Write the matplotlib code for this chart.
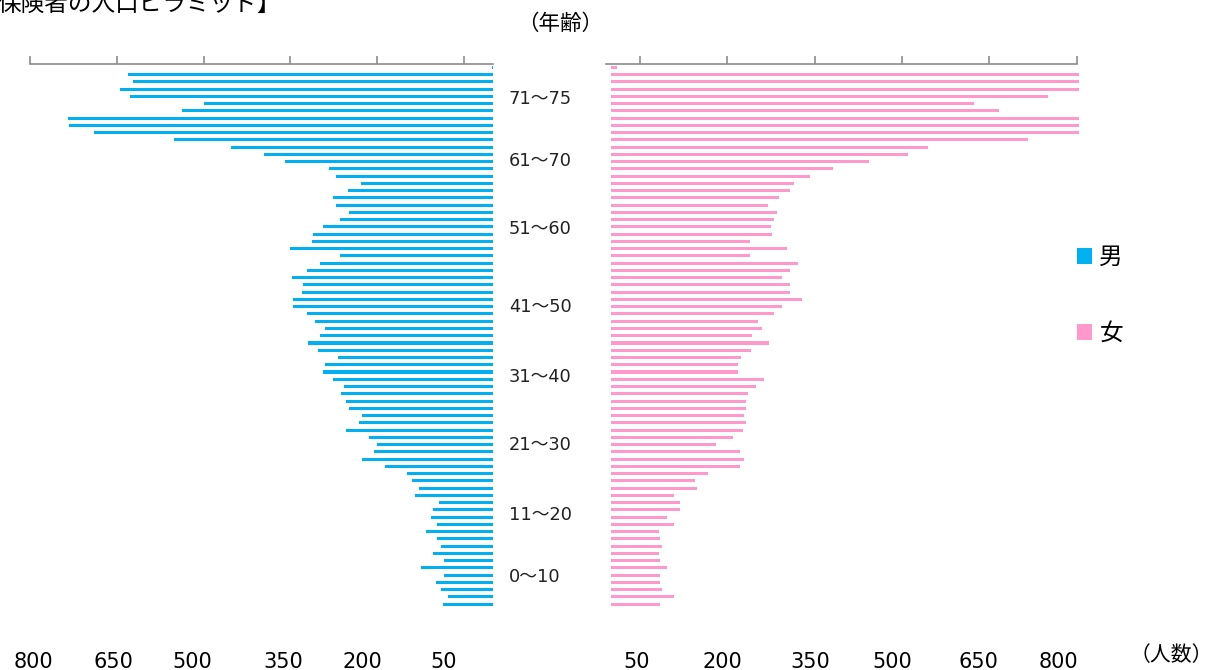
import matplotlib
matplotlib.use("Agg")
import matplotlib.pyplot as plt
import numpy as np

plt.rcParams["font.family"] = ["DejaVu Sans", "Noto Sans CJK JP"]

# ages listed from oldest (top) to youngest (bottom)
male = [2, 631, 622, 645, 628, 500, 537, 735, 733, 690,
        551, 452, 395, 359, 283, 271, 228, 251, 277, 271,
        248, 265, 294, 311, 313, 350, 265, 299, 322, 348,
        328, 330, 345, 345, 322, 307, 291, 299, 319, 302,
        268, 291, 294, 277, 257, 263, 254, 248, 226, 231,
        254, 214, 200, 206, 226, 186, 149, 140, 127, 135,
        93, 104, 107, 96, 115, 96, 90, 104, 84, 124,
        84, 98, 90, 78, 87]
female = [10, 804, 804, 804, 750, 624, 666, 804, 804, 804,
          716, 545, 511, 443, 381, 342, 314, 308, 289, 269,
          286, 280, 274, 277, 238, 302, 238, 322, 308, 294,
          308, 308, 328, 294, 280, 252, 260, 243, 271, 240,
          223, 218, 218, 263, 249, 235, 232, 232, 229, 232,
          226, 209, 181, 221, 229, 221, 167, 144, 147, 108,
          119, 119, 96, 108, 82, 85, 88, 82, 85, 96,
          85, 85, 88, 108, 85]
age_groups = ["71～75", "61～70", "51～60", "41～50", "31～40", "21～30", "11～20", "0～10"]
age_label_px = [97, 159, 228, 305, 375, 444, 513, 575]
tick_values = [800, 650, 500, 350, 200, 50]
left_label_px = [33, 113, 192, 283, 362, 444]
right_label_px = [637, 722, 810, 892, 978, 1058]

BLUE = "#00B0F0"
PINK = "#FF99CC"
GREY = "#8c8c8c"
W, H = 1216, 670


def fx(px):
    return px / W


def fy(py):
    return 1 - py / H


fig = plt.figure(figsize=(W / 100, H / 100), dpi=100)

n = len(male)
y = np.arange(n)[::-1]  # top row = oldest
ylim = (-0.8, n - 1 + 0.45)
ax_top, ax_bot = 64, 610

axl = fig.add_axes([fx(30), fy(ax_bot), fx(493 - 30), (ax_bot - ax_top) / H])
axr = fig.add_axes([fx(606), fy(ax_bot), fx(1076.7 - 606), (ax_bot - ax_top) / H])

bm = axl.barh(y, male, height=0.42, color=BLUE, clip_on=False)
bf = axr.barh(y, female, height=0.42, color=PINK, clip_on=False)

axl.set_xlim(800, 0)
axr.set_xlim(-8.6, 800)
for ax in (axl, axr):
    ax.set_ylim(*ylim)
    for side in ("left", "right", "bottom"):
        ax.spines[side].set_visible(False)
    ax.spines["top"].set_color(GREY)
    ax.spines["top"].set_linewidth(1.2)
    ax.xaxis.tick_top()
    ax.set_xticks(tick_values)
    ax.tick_params(axis="x", direction="out", length=6, width=1.2, color=GREY,
                   labeltop=False, labelbottom=False)
    ax.set_yticks([])
    ax.patch.set_alpha(0)

for lab, py in zip(age_groups, age_label_px):
    fig.text(fx(509), fy(py + 6.5), lab, fontsize=12.8, va="baseline", ha="left",
             color="#222222")

for v, px in zip(tick_values, left_label_px):
    fig.text(fx(px), fy(668), str(v), fontsize=15, ha="center", va="baseline")
for v, px in zip(tick_values[::-1], right_label_px):
    fig.text(fx(px), fy(668), str(v), fontsize=15, ha="center", va="baseline")

fig.text(fx(1171), fy(655), "（人数）", fontsize=15, ha="center", va="center")
fig.text(fx(560), fy(24), "（年齢）", fontsize=15.5, ha="center", va="center")
fig.text(fx(-3), fy(12), "保険者の人口ピラミッド】", fontsize=17, ha="left",
         va="baseline")

fig.legend([bm, bf], ["男", "女"], loc="upper left",
           bbox_to_anchor=(fx(1077), fy(245)), frameon=False, fontsize=17,
           handlelength=0.65, handleheight=0.65, handletextpad=0.3,
           labelspacing=2.2, borderpad=0, borderaxespad=0)

fig.savefig("out.png", dpi=100)
